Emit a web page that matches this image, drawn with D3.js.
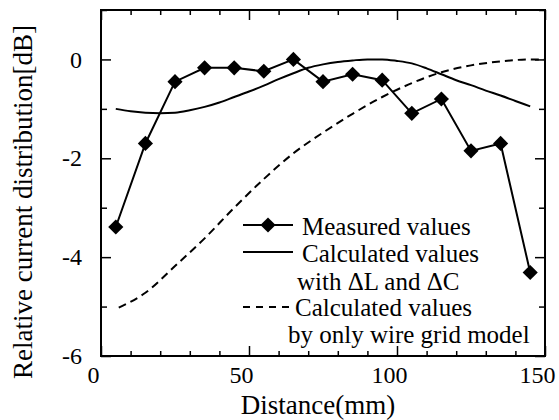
<!DOCTYPE html>
<html>
<head>
<meta charset="utf-8">
<script src="https://cdn.jsdelivr.net/npm/d3@7"></script>
<style>
    body { margin: 0; background: #fff; }
    svg text { font-family: "Liberation Serif", "Times New Roman", "DejaVu Serif", serif; fill: #000; }
    .tick-label text { font-size: 24px; }
    .axis-title { font-size: 27px; }
    .legend-text { font-size: 25px; }
</style>
</head>
<body>
<div id="chart"></div>
<script>
// Measured values (diamonds)
const measuredX = [5, 15, 25, 35, 45, 55, 65, 75, 85, 95, 105, 115, 125, 135, 145];
const measuredY = [-3.39, -1.70, -0.45, -0.17, -0.17, -0.24, 0.0, -0.45, -0.30, -0.42, -1.09, -0.80, -1.85, -1.70, -4.31];

// Calculated values with dL and dC (solid curve)
const calcX = [5, 10, 15, 20, 25, 30, 35, 40, 45, 50, 55, 60, 65, 70, 75, 80, 85, 90, 95, 100, 105, 110, 115, 120, 125, 130, 135, 140, 145];
const calcY = [-1.0, -1.05, -1.08, -1.09, -1.08, -1.03, -0.96, -0.87, -0.76, -0.65, -0.53, -0.40, -0.28, -0.17, -0.10, -0.05, -0.02, 0.0, 0.0, -0.03, -0.08, -0.18, -0.30, -0.42, -0.52, -0.63, -0.73, -0.84, -0.95];

// Calculated values by only wire grid model (dashed curve)
const gridX = [6, 15, 25, 35, 45, 55, 65, 75, 85, 95, 105, 115, 125, 135, 145, 150];
const gridY = [-5.02, -4.72, -4.18, -3.62, -3.0, -2.42, -1.9, -1.48, -1.1, -0.76, -0.48, -0.26, -0.12, -0.04, 0.0, 0.0];

// Tick labels
const xTickLabels = [0, 50, 100, 150];
const yTickLabels = [0, -2, -4, -6];

// Legend entries
const legendItems = ["Measured values", "Calculated values", "with \u0394L and \u0394C", "Calculated values", "by only wire grid model"];

(function () {
    const W = 559, H = 420;
    const margin = { top: 10, right: 14, bottom: 64, left: 101 };

    const svg = d3.select("#chart").append("svg")
        .attr("width", W)
        .attr("height", H);

    const x = d3.scaleLinear().domain([0, 150]).range([margin.left, W - margin.right]);
    const y = d3.scaleLinear().domain([-6, 1]).range([H - margin.bottom, margin.top]);

    // minor/major tick helper: ticks point inward
    function styleTicks(g, majors, major, minor) {
        g.select(".domain").remove();
        g.selectAll(".tick line")
            .attr("stroke", "#000")
            .attr("stroke-width", 1.5)
            .each(function (d) {
                const len = majors.includes(d) ? major : minor;
                const el = d3.select(this);
                if (el.attr("x2") !== null && +el.attr("x2") !== 0) el.attr("x2", len);
                else el.attr("y2", len);
            });
    }

    const xAll = d3.range(0, 151, 10);
    const yAll = d3.range(-6, 1.01, 1);

    svg.append("g")
        .attr("transform", `translate(0,${y(-6)})`)
        .call(d3.axisBottom(x).tickValues(xAll).tickSize(-5).tickFormat(""))
        .call(g => styleTicks(g, xTickLabels, -10, -5));
    svg.append("g")
        .attr("transform", `translate(0,${y(1)})`)
        .call(d3.axisTop(x).tickValues(xAll).tickSize(-5).tickFormat(""))
        .call(g => styleTicks(g, xTickLabels, 10, 5));
    svg.append("g")
        .attr("transform", `translate(${x(0)},0)`)
        .call(d3.axisLeft(y).tickValues(yAll).tickSize(-6).tickFormat(""))
        .call(g => styleTicks(g, yTickLabels, 10, 6));
    svg.append("g")
        .attr("transform", `translate(${x(150)},0)`)
        .call(d3.axisRight(y).tickValues(yAll).tickSize(-6).tickFormat(""))
        .call(g => styleTicks(g, yTickLabels, -10, -6));

    // tick labels
    svg.append("g")
        .attr("class", "tick-label")
        .attr("transform", `translate(0,${y(-6)})`)
        .call(d3.axisBottom(x).tickValues(xTickLabels).tickSize(0).tickPadding(10).tickFormat(d3.format("d")))
        .attr("font-family", null).attr("font-size", null)
        .call(g => g.select(".domain").remove())
        .call(g => g.selectAll("text").attr("dx", -8));
    svg.append("g")
        .attr("class", "tick-label")
        .attr("transform", `translate(${x(0)},0)`)
        .call(d3.axisLeft(y).tickValues(yTickLabels).tickSize(0).tickPadding(19).tickFormat(d => d === 0 ? "0" : "-" + Math.abs(d)))
        .attr("font-family", null).attr("font-size", null)
        .call(g => g.select(".domain").remove());

    // frame
    svg.append("rect")
        .attr("x", x(0)).attr("y", y(1))
        .attr("width", x(150) - x(0)).attr("height", y(-6) - y(1))
        .attr("fill", "none").attr("stroke", "#000").attr("stroke-width", 2);

    // axis titles
    svg.append("text")
        .attr("class", "axis-title")
        .attr("x", 318).attr("y", 414)
        .attr("text-anchor", "middle")
        .text("Distance(mm)");
    svg.append("text")
        .attr("class", "axis-title")
        .attr("transform", "translate(32,202) rotate(-90)")
        .attr("text-anchor", "middle")
        .text("Relative current distribution[dB]");

    // curves
    const lineSmooth = d3.line().x(d => x(d[0])).y(d => y(d[1])).curve(d3.curveMonotoneX);
    const lineStraight = d3.line().x(d => x(d[0])).y(d => y(d[1]));

    svg.append("path")
        .datum(d3.zip(gridX, gridY))
        .attr("d", lineSmooth)
        .attr("fill", "none").attr("stroke", "#000").attr("stroke-width", 2)
        .attr("stroke-dasharray", "8,5");

    svg.append("path")
        .datum(d3.zip(calcX, calcY))
        .attr("d", lineSmooth)
        .attr("fill", "none").attr("stroke", "#000").attr("stroke-width", 2);

    const measured = d3.zip(measuredX, measuredY);
    svg.append("path")
        .datum(measured)
        .attr("d", lineStraight)
        .attr("fill", "none").attr("stroke", "#000").attr("stroke-width", 2);

    const diamond = d3.symbol().type(d3.symbolSquare).size(115);
    svg.selectAll("path.pt")
        .data(measured)
        .enter().append("path")
        .attr("class", "pt")
        .attr("d", diamond)
        .attr("transform", d => `translate(${x(d[0])},${y(d[1])}) rotate(45)`)
        .attr("fill", "#000");

    // legend
    const lx0 = 243, lx1 = 293;
    const legendRows = [225, 252, 307];
    svg.append("line")
        .attr("x1", lx0).attr("x2", lx1).attr("y1", legendRows[0]).attr("y2", legendRows[0])
        .attr("stroke", "#000").attr("stroke-width", 2);
    svg.append("path")
        .attr("d", diamond)
        .attr("transform", `translate(${(lx0 + lx1) / 2},${legendRows[0]}) rotate(45)`)
        .attr("fill", "#000");
    svg.append("line")
        .attr("x1", lx0).attr("x2", lx1).attr("y1", legendRows[1]).attr("y2", legendRows[1])
        .attr("stroke", "#000").attr("stroke-width", 2);
    svg.append("line")
        .attr("x1", lx0).attr("x2", lx1).attr("y1", legendRows[2]).attr("y2", legendRows[2])
        .attr("stroke", "#000").attr("stroke-width", 2).attr("stroke-dasharray", "7,6");

    const textPos = [[302, 235], [302, 262], [297, 290], [295, 316], [288, 343]];
    svg.selectAll("text.legend-text")
        .data(legendItems)
        .enter().append("text")
        .attr("class", "legend-text")
        .attr("x", (d, i) => textPos[i][0])
        .attr("y", (d, i) => textPos[i][1])
        .text(d => d);
})();
</script>
</body>
</html>
